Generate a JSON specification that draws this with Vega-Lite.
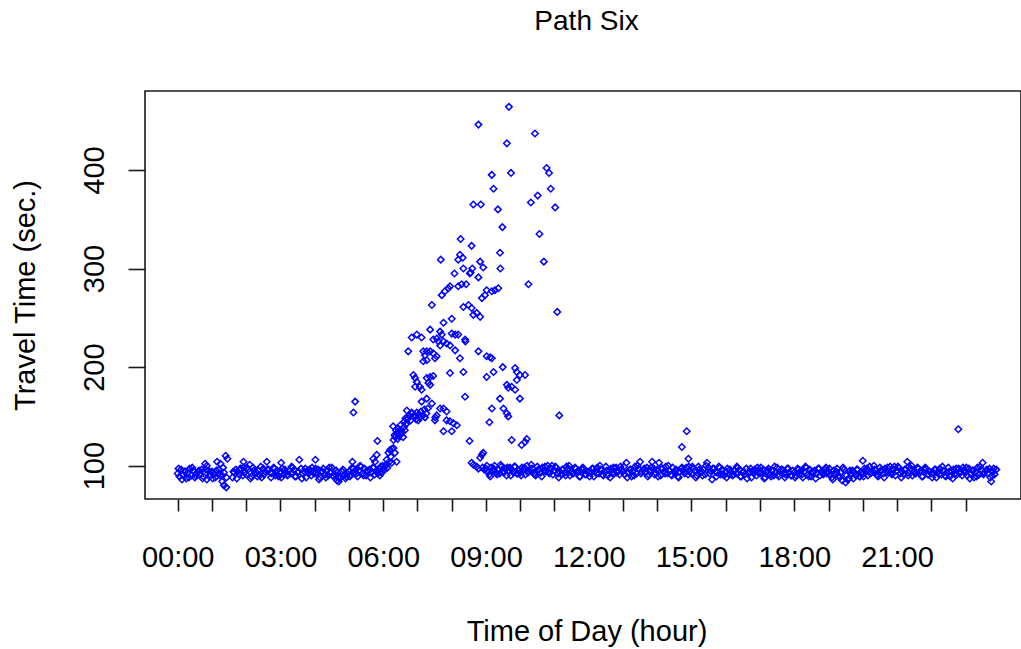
{
"$schema":"https://vega.github.io/schema/vega-lite/v6.json",
"width":876,"height":408,
"autosize":{"type":"none"},
"padding":{"left":145,"top":91,"right":0,"bottom":150},
"background":"white",
"config":{"view":{"stroke":"#1a1a1a","strokeWidth":1.6},"font":"Liberation Sans"},
"title":{"text":"Path Six","font":"Liberation Sans","fontSize":28,"fontWeight":"normal","color":"#000","anchor":"middle","frame":"group","offset":55,"dx":3.5},
"data":{"values":[
{"h":0.00,"s":92},{"h":0.05,"s":89},{"h":0.10,"s":96},{"h":0.15,"s":91},{"h":0.20,"s":94},{"h":0.25,"s":87},{"h":0.30,"s":93},{"h":0.35,"s":97},{"h":0.40,"s":90},{"h":0.45,"s":95},{"h":0.50,"s":88},{"h":0.55,"s":92},{"h":0.60,"s":94},{"h":0.65,"s":91},{"h":0.70,"s":96},{"h":0.75,"s":89},{"h":0.80,"s":102},{"h":0.85,"s":100},{"h":0.90,"s":95},{"h":0.95,"s":91},{"h":0.85,"s":86},
{"h":1.00,"s":94},{"h":1.05,"s":91},{"h":1.10,"s":88},{"h":1.15,"s":104},{"h":1.20,"s":92},{"h":1.25,"s":102},{"h":1.30,"s":90},{"h":1.35,"s":93},{"h":1.40,"s":110},{"h":1.45,"s":107},{"h":1.30,"s":84},{"h":1.35,"s":80},{"h":1.42,"s":78},{"h":1.20,"s":96},
{"h":1.60,"s":88},{"h":1.65,"s":93},{"h":1.70,"s":96},{"h":1.75,"s":94},{"h":1.80,"s":91},{"h":1.85,"s":97},{"h":1.90,"s":90},{"h":1.95,"s":93},{"h":1.92,"s":104},
{"h":2.00,"s":91},{"h":2.05,"s":96},{"h":2.10,"s":101},{"h":2.15,"s":89},{"h":2.20,"s":98},{"h":2.25,"s":92},{"h":2.30,"s":93},{"h":2.35,"s":95},{"h":2.40,"s":90},{"h":2.45,"s":88},{"h":2.50,"s":97},{"h":2.55,"s":94},{"h":2.60,"s":104},{"h":2.65,"s":96},{"h":2.70,"s":93},{"h":2.75,"s":92},{"h":2.80,"s":98},{"h":2.85,"s":90},{"h":2.90,"s":95},{"h":2.95,"s":89},
{"h":3.00,"s":94},{"h":3.05,"s":97},{"h":3.10,"s":91},{"h":3.15,"s":93},{"h":3.20,"s":90},{"h":3.25,"s":95},{"h":3.30,"s":92},{"h":3.35,"s":98},{"h":3.40,"s":96},{"h":3.45,"s":89},{"h":3.50,"s":93},{"h":3.55,"s":106},{"h":3.60,"s":97},{"h":3.65,"s":92},{"h":3.70,"s":94},{"h":3.75,"s":88},{"h":3.80,"s":95},{"h":3.85,"s":96},{"h":3.90,"s":90},{"h":3.95,"s":93},{"h":3.02,"s":103},
{"h":4.00,"s":92},{"h":4.05,"s":93},{"h":4.10,"s":96},{"h":4.15,"s":88},{"h":4.20,"s":94},{"h":4.25,"s":97},{"h":4.30,"s":91},{"h":4.35,"s":95},{"h":4.40,"s":90},{"h":4.45,"s":93},{"h":4.50,"s":98},{"h":4.55,"s":89},{"h":4.60,"s":91},{"h":4.65,"s":93},{"h":4.70,"s":89},{"h":4.75,"s":88},{"h":4.80,"s":94},{"h":4.85,"s":90},{"h":4.90,"s":87},{"h":4.95,"s":92},{"h":4.02,"s":106},{"h":4.65,"s":85},{"h":4.70,"s":84},
{"h":5.00,"s":94},{"h":5.05,"s":91},{"h":5.10,"s":98},{"h":5.15,"s":93},{"h":5.20,"s":96},{"h":5.25,"s":89},{"h":5.30,"s":95},{"h":5.35,"s":99},{"h":5.40,"s":92},{"h":5.45,"s":97},{"h":5.50,"s":90},{"h":5.55,"s":94},{"h":5.60,"s":96},{"h":5.65,"s":93},{"h":5.70,"s":98},{"h":5.75,"s":91},{"h":5.80,"s":95},{"h":5.85,"s":92},{"h":5.90,"s":97},{"h":5.95,"s":93},
{"h":5.10,"s":104},{"h":5.13,"s":154},{"h":5.18,"s":165},{"h":5.71,"s":107},{"h":5.76,"s":104},{"h":5.81,"s":111},{"h":5.83,"s":125},{"h":5.90,"s":90},{"h":5.98,"s":100},
{"h":0.025,"s":97},{"h":0.125,"s":86},{"h":0.225,"s":94},{"h":0.325,"s":88},{"h":0.425,"s":98},{"h":0.525,"s":90},{"h":0.625,"s":95},{"h":0.725,"s":87},{"h":0.825,"s":96},{"h":0.925,"s":89},
{"h":1.025,"s":87},{"h":1.125,"s":95},{"h":1.225,"s":90},{"h":1.325,"s":98},{"h":1.425,"s":88},{"h":1.625,"s":94},{"h":1.725,"s":87},{"h":1.825,"s":97},{"h":1.925,"s":98},
{"h":2.025,"s":98},{"h":2.125,"s":87},{"h":2.225,"s":95},{"h":2.325,"s":89},{"h":2.425,"s":99},{"h":2.525,"s":91},{"h":2.625,"s":96},{"h":2.725,"s":88},{"h":2.825,"s":97},{"h":2.925,"s":90},
{"h":3.025,"s":88},{"h":3.125,"s":96},{"h":3.225,"s":91},{"h":3.325,"s":99},{"h":3.425,"s":89},{"h":3.525,"s":94},{"h":3.625,"s":87},{"h":3.725,"s":97},{"h":3.825,"s":92},{"h":3.925,"s":98},
{"h":4.025,"s":97},{"h":4.125,"s":86},{"h":4.225,"s":94},{"h":4.325,"s":88},{"h":4.425,"s":98},{"h":4.525,"s":90},{"h":4.625,"s":95},{"h":4.725,"s":87},{"h":4.825,"s":96},{"h":4.925,"s":89},
{"h":5.025,"s":89},{"h":5.125,"s":97},{"h":5.225,"s":92},{"h":5.325,"s":100},{"h":5.425,"s":90},{"h":5.525,"s":95},{"h":5.625,"s":88},{"h":5.725,"s":98},{"h":5.825,"s":93},{"h":5.925,"s":99},
{"h":6.00,"s":97},{"h":6.02,"s":95},{"h":6.05,"s":99},{"h":6.08,"s":101},{"h":6.10,"s":106},{"h":6.12,"s":98},{"h":6.15,"s":113},{"h":6.18,"s":104},{"h":6.20,"s":116},{"h":6.22,"s":109},{"h":6.25,"s":103},{"h":6.26,"s":117},{"h":6.30,"s":118},{"h":6.34,"s":113},{"h":6.39,"s":104},
{"h":6.29,"s":140},{"h":6.30,"s":126},{"h":6.33,"s":131},{"h":6.35,"s":129},{"h":6.37,"s":136},{"h":6.40,"s":133},{"h":6.42,"s":127},{"h":6.43,"s":138},{"h":6.46,"s":130},{"h":6.48,"s":135},{"h":6.50,"s":141},{"h":6.52,"s":132},{"h":6.55,"s":134},{"h":6.58,"s":129},{"h":6.60,"s":139},{"h":6.63,"s":136},{"h":6.66,"s":142},{"h":6.69,"s":143},
{"h":6.62,"s":145},{"h":6.65,"s":148},{"h":6.69,"s":156},{"h":6.73,"s":148},{"h":6.76,"s":151},{"h":6.80,"s":146},{"h":6.83,"s":154},{"h":6.84,"s":153},{"h":6.88,"s":150},{"h":6.93,"s":151},{"h":6.96,"s":147},{"h":6.98,"s":154},{"h":7.02,"s":146},{"h":7.05,"s":152},{"h":7.07,"s":149},{"h":7.10,"s":155},{"h":7.16,"s":151},{"h":7.20,"s":157},{"h":7.22,"s":149},{"h":7.26,"s":153},{"h":7.30,"s":158},
{"h":6.73,"s":216},{"h":6.83,"s":230},{"h":6.98,"s":233},{"h":7.12,"s":230},
{"h":6.88,"s":192},{"h":6.93,"s":189},{"h":6.98,"s":185},{"h":6.93,"s":180},{"h":7.07,"s":180},{"h":7.12,"s":177},
{"h":7.12,"s":165},{"h":7.27,"s":168},{"h":7.42,"s":163},
{"h":7.17,"s":216},{"h":7.22,"s":212},{"h":7.27,"s":216},{"h":7.37,"s":216},{"h":7.46,"s":214},{"h":7.51,"s":209},{"h":7.56,"s":211},{"h":7.17,"s":206},{"h":7.27,"s":207},
{"h":7.27,"s":189},{"h":7.37,"s":190},{"h":7.46,"s":191},{"h":7.32,"s":184},{"h":7.37,"s":182},
{"h":7.37,"s":238},{"h":7.42,"s":263},{"h":7.46,"s":228},{"h":7.52,"s":149},
{"h":7.56,"s":229},{"h":7.61,"s":226},{"h":7.76,"s":226},{"h":7.66,"s":222},{"h":7.85,"s":224},{"h":7.95,"s":222},{"h":7.66,"s":236},{"h":7.71,"s":233},
{"h":7.76,"s":245},{"h":8.00,"s":249},{"h":8.00,"s":234},{"h":8.10,"s":233},{"h":8.19,"s":233},{"h":8.39,"s":228},{"h":8.40,"s":226},
{"h":7.71,"s":273},{"h":7.80,"s":277},{"h":7.90,"s":280},{"h":7.95,"s":282},
{"h":8.19,"s":282},{"h":8.29,"s":284},{"h":8.42,"s":284},
{"h":8.34,"s":261},{"h":8.49,"s":263},{"h":8.58,"s":260},{"h":8.63,"s":253},{"h":8.73,"s":255},{"h":8.83,"s":251},
{"h":8.88,"s":270},{"h":8.97,"s":273},{"h":9.02,"s":278},{"h":9.17,"s":277},{"h":9.26,"s":278},{"h":9.36,"s":280},
{"h":10.24,"s":284},
{"h":8.10,"s":217},{"h":8.24,"s":209},{"h":8.78,"s":216},{"h":9.02,"s":211},{"h":9.12,"s":210},{"h":9.17,"s":209},
{"h":7.95,"s":194},{"h":8.34,"s":195},{"h":9.02,"s":190},{"h":9.22,"s":195},{"h":9.49,"s":200},{"h":9.85,"s":199},{"h":9.90,"s":195},{"h":9.99,"s":192},{"h":10.14,"s":192},{"h":9.90,"s":187},{"h":9.61,"s":182},{"h":9.65,"s":179},{"h":9.75,"s":180},{"h":9.85,"s":177},
{"h":7.66,"s":158},{"h":7.76,"s":158},{"h":7.85,"s":155},{"h":8.39,"s":170},{"h":7.56,"s":151},{"h":7.51,"s":146},{"h":7.85,"s":146},{"h":7.95,"s":145},{"h":8.05,"s":143},{"h":8.15,"s":141},{"h":7.76,"s":135},{"h":8.00,"s":135},
{"h":9.10,"s":144},{"h":9.17,"s":158},{"h":9.41,"s":168},{"h":9.51,"s":158},{"h":9.61,"s":153},{"h":9.65,"s":150},{"h":9.99,"s":168},
{"h":8.52,"s":125},{"h":9.75,"s":126},{"h":10.04,"s":121},{"h":10.14,"s":124},{"h":10.19,"s":127},
{"h":11.08,"s":256},{"h":11.14,"s":151},
{"h":9.67,"s":464},{"h":8.78,"s":446},{"h":10.43,"s":437},{"h":9.61,"s":427},{"h":10.77,"s":402},{"h":10.84,"s":397},{"h":9.17,"s":395},{"h":9.73,"s":397},{"h":9.22,"s":381},{"h":10.89,"s":381},{"h":10.51,"s":374},{"h":10.31,"s":367},{"h":11.02,"s":362},{"h":8.63,"s":365},{"h":8.85,"s":365},{"h":9.35,"s":360},{"h":9.48,"s":342},{"h":10.56,"s":335},{"h":8.26,"s":330},{"h":8.58,"s":323},{"h":9.41,"s":316},{"h":7.68,"s":309},{"h":8.24,"s":314},{"h":8.32,"s":311},{"h":8.19,"s":309},{"h":10.69,"s":307},{"h":8.83,"s":307},{"h":8.92,"s":301},{"h":8.08,"s":295},{"h":8.34,"s":300},{"h":8.53,"s":295},{"h":8.55,"s":296},{"h":8.60,"s":300},{"h":8.78,"s":291},{"h":9.42,"s":300},
{"h":8.58,"s":103},{"h":8.63,"s":101},{"h":8.73,"s":99},{"h":8.78,"s":97},{"h":8.83,"s":108},{"h":8.88,"s":111},{"h":8.92,"s":113},
{"h":8.90,"s":98},{"h":8.95,"s":96},
{"h":9.00,"s":97},{"h":9.05,"s":94},{"h":9.10,"s":91},{"h":9.15,"s":98},{"h":9.20,"s":95},{"h":9.25,"s":100},{"h":9.30,"s":93},{"h":9.35,"s":96},{"h":9.40,"s":92},{"h":9.45,"s":99},{"h":9.50,"s":94},{"h":9.55,"s":97},{"h":9.60,"s":90},{"h":9.65,"s":95},{"h":9.70,"s":98},{"h":9.75,"s":96},{"h":9.80,"s":93},{"h":9.85,"s":99},{"h":9.90,"s":92},{"h":9.95,"s":95},
{"h":10.00,"s":93},{"h":10.05,"s":98},{"h":10.10,"s":96},{"h":10.15,"s":91},{"h":10.20,"s":100},{"h":10.25,"s":94},{"h":10.30,"s":95},{"h":10.35,"s":97},{"h":10.40,"s":92},{"h":10.45,"s":90},{"h":10.50,"s":99},{"h":10.55,"s":96},{"h":10.60,"s":93},{"h":10.65,"s":98},{"h":10.70,"s":95},{"h":10.75,"s":94},{"h":10.80,"s":100},{"h":10.85,"s":92},{"h":10.90,"s":97},{"h":10.95,"s":91},
{"h":11.00,"s":95},{"h":11.05,"s":98},{"h":11.10,"s":92},{"h":11.15,"s":94},{"h":11.20,"s":91},{"h":11.25,"s":96},{"h":11.30,"s":93},{"h":11.35,"s":99},{"h":11.40,"s":97},{"h":11.45,"s":90},{"h":11.50,"s":94},{"h":11.55,"s":92},{"h":11.60,"s":98},{"h":11.65,"s":93},{"h":11.70,"s":95},{"h":11.75,"s":89},{"h":11.80,"s":96},{"h":11.85,"s":97},{"h":11.90,"s":91},{"h":11.95,"s":94},
{"h":12.00,"s":93},{"h":12.05,"s":94},{"h":12.10,"s":97},{"h":12.15,"s":89},{"h":12.20,"s":95},{"h":12.25,"s":98},{"h":12.30,"s":92},{"h":12.35,"s":96},{"h":12.40,"s":91},{"h":12.45,"s":94},{"h":12.50,"s":99},{"h":12.55,"s":90},{"h":12.60,"s":95},{"h":12.65,"s":97},{"h":12.70,"s":93},{"h":12.75,"s":92},{"h":12.80,"s":98},{"h":12.85,"s":94},{"h":12.90,"s":91},{"h":12.95,"s":96},
{"h":13.00,"s":94},{"h":13.05,"s":91},{"h":13.10,"s":103},{"h":13.15,"s":93},{"h":13.20,"s":96},{"h":13.25,"s":89},{"h":13.30,"s":95},{"h":13.35,"s":99},{"h":13.40,"s":92},{"h":13.45,"s":97},{"h":13.50,"s":104},{"h":13.55,"s":94},{"h":13.60,"s":96},{"h":13.65,"s":93},{"h":13.70,"s":98},{"h":13.75,"s":91},{"h":13.80,"s":95},{"h":13.85,"s":104},{"h":13.90,"s":97},{"h":13.95,"s":93},
{"h":14.00,"s":96},{"h":14.05,"s":103},{"h":14.10,"s":90},{"h":14.15,"s":97},{"h":14.20,"s":94},{"h":14.25,"s":99},{"h":14.30,"s":92},{"h":14.35,"s":95},{"h":14.40,"s":91},{"h":14.45,"s":98},{"h":14.50,"s":93},{"h":14.55,"s":96},{"h":14.60,"s":89},{"h":14.65,"s":94},{"h":14.70,"s":97},{"h":14.75,"s":95},{"h":14.80,"s":92},{"h":14.85,"s":98},{"h":14.90,"s":91},{"h":14.95,"s":94},{"h":14.72,"s":119},{"h":14.86,"s":135},{"h":14.91,"s":107},
{"h":15.00,"s":92},{"h":15.05,"s":97},{"h":15.10,"s":95},{"h":15.15,"s":90},{"h":15.20,"s":99},{"h":15.25,"s":93},{"h":15.30,"s":94},{"h":15.35,"s":96},{"h":15.40,"s":91},{"h":15.45,"s":103},{"h":15.50,"s":98},{"h":15.55,"s":95},{"h":15.60,"s":86},{"h":15.65,"s":97},{"h":15.70,"s":94},{"h":15.75,"s":93},{"h":15.80,"s":99},{"h":15.85,"s":91},{"h":15.90,"s":96},{"h":15.95,"s":90},
{"h":16.00,"s":94},{"h":16.05,"s":97},{"h":16.10,"s":91},{"h":16.15,"s":93},{"h":16.20,"s":90},{"h":16.25,"s":95},{"h":16.30,"s":92},{"h":16.35,"s":98},{"h":16.40,"s":96},{"h":16.45,"s":89},{"h":16.50,"s":93},{"h":16.55,"s":91},{"h":16.60,"s":97},{"h":16.65,"s":92},{"h":16.70,"s":94},{"h":16.75,"s":88},{"h":16.80,"s":95},{"h":16.85,"s":96},{"h":16.90,"s":90},{"h":16.95,"s":93},
{"h":17.00,"s":92},{"h":17.05,"s":93},{"h":17.10,"s":96},{"h":17.15,"s":88},{"h":17.20,"s":94},{"h":17.25,"s":97},{"h":17.30,"s":91},{"h":17.35,"s":95},{"h":17.40,"s":90},{"h":17.45,"s":93},{"h":17.50,"s":98},{"h":17.55,"s":89},{"h":17.60,"s":94},{"h":17.65,"s":96},{"h":17.70,"s":92},{"h":17.75,"s":91},{"h":17.80,"s":97},{"h":17.85,"s":93},{"h":17.90,"s":90},{"h":17.95,"s":95},
{"h":18.00,"s":93},{"h":18.05,"s":90},{"h":18.10,"s":97},{"h":18.15,"s":92},{"h":18.20,"s":95},{"h":18.25,"s":88},{"h":18.30,"s":94},{"h":18.35,"s":98},{"h":18.40,"s":91},{"h":18.45,"s":96},{"h":18.50,"s":89},{"h":18.55,"s":93},{"h":18.60,"s":95},{"h":18.65,"s":92},{"h":18.70,"s":97},{"h":18.75,"s":90},{"h":18.80,"s":94},{"h":18.85,"s":91},{"h":18.90,"s":96},{"h":18.95,"s":92},
{"h":19.00,"s":94},{"h":19.05,"s":91},{"h":19.10,"s":88},{"h":19.15,"s":95},{"h":19.20,"s":92},{"h":19.25,"s":97},{"h":19.30,"s":90},{"h":19.35,"s":93},{"h":19.40,"s":85},{"h":19.45,"s":96},{"h":19.50,"s":83},{"h":19.55,"s":86},{"h":19.60,"s":87},{"h":19.65,"s":92},{"h":19.70,"s":95},{"h":19.75,"s":93},{"h":19.80,"s":90},{"h":19.85,"s":96},{"h":19.90,"s":89},{"h":19.95,"s":92},
{"h":20.00,"s":105},{"h":20.05,"s":97},{"h":20.10,"s":95},{"h":20.15,"s":90},{"h":20.20,"s":99},{"h":20.25,"s":93},{"h":20.30,"s":94},{"h":20.35,"s":96},{"h":20.40,"s":91},{"h":20.45,"s":89},{"h":20.50,"s":98},{"h":20.55,"s":95},{"h":20.60,"s":92},{"h":20.65,"s":97},{"h":20.70,"s":94},{"h":20.75,"s":93},{"h":20.80,"s":99},{"h":20.85,"s":91},{"h":20.90,"s":96},{"h":20.95,"s":90},{"h":20.02,"s":92},
{"h":21.00,"s":95},{"h":21.05,"s":98},{"h":21.10,"s":92},{"h":21.15,"s":94},{"h":21.20,"s":91},{"h":21.25,"s":96},{"h":21.30,"s":104},{"h":21.35,"s":99},{"h":21.40,"s":97},{"h":21.45,"s":90},{"h":21.50,"s":94},{"h":21.55,"s":92},{"h":21.60,"s":98},{"h":21.65,"s":93},{"h":21.70,"s":95},{"h":21.75,"s":89},{"h":21.80,"s":96},{"h":21.85,"s":97},{"h":21.90,"s":91},{"h":21.95,"s":94},{"h":21.32,"s":93},
{"h":22.00,"s":92},{"h":22.05,"s":93},{"h":22.10,"s":96},{"h":22.15,"s":88},{"h":22.20,"s":94},{"h":22.25,"s":97},{"h":22.30,"s":91},{"h":22.35,"s":95},{"h":22.40,"s":90},{"h":22.45,"s":93},{"h":22.50,"s":98},{"h":22.55,"s":89},{"h":22.60,"s":94},{"h":22.65,"s":96},{"h":22.70,"s":92},{"h":22.75,"s":91},{"h":22.80,"s":97},{"h":22.85,"s":93},{"h":22.90,"s":90},{"h":22.95,"s":95},{"h":22.79,"s":137},
{"h":23.00,"s":93},{"h":23.05,"s":90},{"h":23.10,"s":97},{"h":23.15,"s":92},{"h":23.20,"s":95},{"h":23.25,"s":88},{"h":23.30,"s":94},{"h":23.35,"s":98},{"h":23.40,"s":91},{"h":23.45,"s":96},{"h":23.50,"s":103},{"h":23.55,"s":93},{"h":23.60,"s":95},{"h":23.65,"s":92},{"h":23.70,"s":97},{"h":23.75,"s":84},{"h":23.80,"s":94},{"h":23.85,"s":91},{"h":23.90,"s":96},{"h":23.52,"s":92},{"h":23.77,"s":90},
{"h":9.025,"s":100},{"h":9.125,"s":89},{"h":9.225,"s":97},{"h":9.325,"s":91},{"h":9.425,"s":101},{"h":9.525,"s":93},{"h":9.625,"s":98},{"h":9.725,"s":90},{"h":9.825,"s":99},{"h":9.925,"s":92},
{"h":10.025,"s":90},{"h":10.125,"s":98},{"h":10.225,"s":93},{"h":10.325,"s":101},{"h":10.425,"s":91},{"h":10.525,"s":96},{"h":10.625,"s":89},{"h":10.725,"s":99},{"h":10.825,"s":94},{"h":10.925,"s":100},
{"h":11.025,"s":99},{"h":11.125,"s":88},{"h":11.225,"s":96},{"h":11.325,"s":90},{"h":11.425,"s":100},{"h":11.525,"s":92},{"h":11.625,"s":97},{"h":11.725,"s":89},{"h":11.825,"s":98},{"h":11.925,"s":91},
{"h":12.025,"s":89},{"h":12.125,"s":97},{"h":12.225,"s":92},{"h":12.325,"s":100},{"h":12.425,"s":90},{"h":12.525,"s":95},{"h":12.625,"s":88},{"h":12.725,"s":98},{"h":12.825,"s":93},{"h":12.925,"s":99},
{"h":13.025,"s":99},{"h":13.125,"s":88},{"h":13.225,"s":96},{"h":13.325,"s":90},{"h":13.425,"s":100},{"h":13.525,"s":92},{"h":13.625,"s":97},{"h":13.725,"s":89},{"h":13.825,"s":98},{"h":13.925,"s":91},
{"h":14.025,"s":89},{"h":14.125,"s":97},{"h":14.225,"s":92},{"h":14.325,"s":100},{"h":14.425,"s":90},{"h":14.525,"s":95},{"h":14.625,"s":88},{"h":14.725,"s":98},{"h":14.825,"s":93},{"h":14.925,"s":99},
{"h":15.025,"s":99},{"h":15.125,"s":88},{"h":15.225,"s":96},{"h":15.325,"s":90},{"h":15.425,"s":100},{"h":15.525,"s":92},{"h":15.625,"s":97},{"h":15.725,"s":89},{"h":15.825,"s":98},{"h":15.925,"s":91},
{"h":16.025,"s":88},{"h":16.125,"s":96},{"h":16.225,"s":91},{"h":16.325,"s":99},{"h":16.425,"s":89},{"h":16.525,"s":94},{"h":16.625,"s":87},{"h":16.725,"s":97},{"h":16.825,"s":92},{"h":16.925,"s":98},
{"h":17.025,"s":98},{"h":17.125,"s":87},{"h":17.225,"s":95},{"h":17.325,"s":89},{"h":17.425,"s":99},{"h":17.525,"s":91},{"h":17.625,"s":96},{"h":17.725,"s":88},{"h":17.825,"s":97},{"h":17.925,"s":90},
{"h":18.025,"s":88},{"h":18.125,"s":96},{"h":18.225,"s":91},{"h":18.325,"s":99},{"h":18.425,"s":89},{"h":18.525,"s":94},{"h":18.625,"s":87},{"h":18.725,"s":97},{"h":18.825,"s":92},{"h":18.925,"s":98},
{"h":19.025,"s":97},{"h":19.125,"s":86},{"h":19.225,"s":94},{"h":19.325,"s":88},{"h":19.425,"s":98},{"h":19.525,"s":90},{"h":19.625,"s":95},{"h":19.725,"s":87},{"h":19.825,"s":96},{"h":19.925,"s":89},
{"h":20.025,"s":89},{"h":20.125,"s":97},{"h":20.225,"s":92},{"h":20.325,"s":100},{"h":20.425,"s":90},{"h":20.525,"s":95},{"h":20.625,"s":88},{"h":20.725,"s":98},{"h":20.825,"s":93},{"h":20.925,"s":99},
{"h":21.025,"s":99},{"h":21.125,"s":88},{"h":21.225,"s":96},{"h":21.325,"s":90},{"h":21.425,"s":100},{"h":21.525,"s":92},{"h":21.625,"s":97},{"h":21.725,"s":89},{"h":21.825,"s":98},{"h":21.925,"s":91},
{"h":22.025,"s":88},{"h":22.125,"s":96},{"h":22.225,"s":91},{"h":22.325,"s":99},{"h":22.425,"s":89},{"h":22.525,"s":94},{"h":22.625,"s":87},{"h":22.725,"s":97},{"h":22.825,"s":92},{"h":22.925,"s":98},
{"h":23.025,"s":98},{"h":23.125,"s":87},{"h":23.225,"s":95},{"h":23.325,"s":89},{"h":23.425,"s":99},{"h":23.525,"s":91},{"h":23.625,"s":96},{"h":23.725,"s":88},{"h":23.825,"s":97}
]},
"mark":{"type":"point","shape":"diamond","filled":false,"color":"#0000ff","size":42,"strokeWidth":1.5,"opacity":1},
"encoding":{
"x":{"field":"h","type":"quantitative","scale":{"domain":[-0.955,24.62],"nice":false,"zero":false},
"axis":{"values":[0,1,2,3,4,5,6,7,8,9,10,11,12,13,14,15,16,17,18,19,20,21,22,23],
"labelExpr":"datum.value % 3 === 0 ? (datum.value < 10 ? '0' : '') + datum.value + ':00' : ''",
"title":"Time of Day (hour)","domain":false,"grid":false,"ticks":true,"tickSize":12,"tickWidth":1.6,"tickColor":"#1a1a1a",
"labelFont":"Liberation Sans","labelFontSize":29,"labelColor":"#000","labelPadding":55.7,"labelBaseline":"alphabetic","labelFlush":false,"labelOverlap":false,
"titleFont":"Liberation Sans","titleFontSize":29,"titleFontWeight":"normal","titleColor":"#000","titleX":441.5,"titleY":141,"titleBaseline":"alphabetic","titleAlign":"center"}},
"y":{"field":"s","type":"quantitative","scale":{"domain":[66.2,480.1],"nice":false,"zero":false},
"axis":{"values":[100,200,300,400],"title":"Travel Time (sec.)","domain":false,"grid":false,"ticks":true,"tickSize":17,"tickWidth":1.6,"tickColor":"#1a1a1a",
"labelAngle":270,"labelAlign":"center","labelBaseline":"alphabetic","labelPadding":25,"labelFont":"Liberation Sans","labelFontSize":29,"labelColor":"#000","labelFlush":false,"labelOverlap":false,
"titleFont":"Liberation Sans","titleFontSize":29,"titleFontWeight":"normal","titleColor":"#000","titleAngle":270,"titleX":-111,"titleBaseline":"alphabetic","titleAlign":"center"}}
}
}
